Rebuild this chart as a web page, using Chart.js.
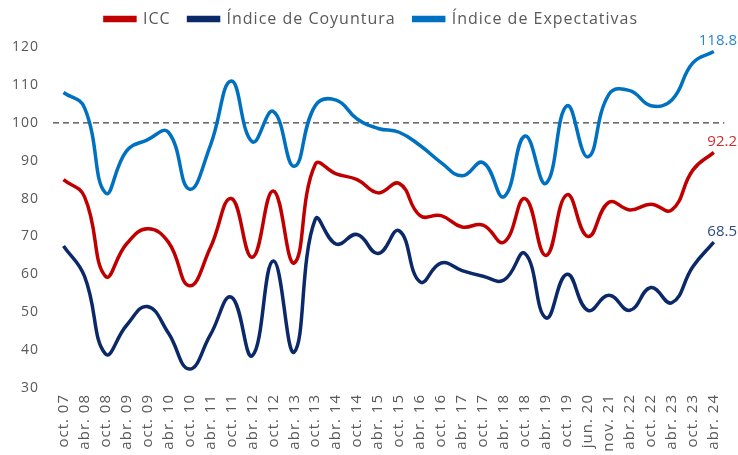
<!DOCTYPE html>
<html>
<head>
<meta charset="utf-8">
<script src="https://cdn.jsdelivr.net/npm/chart.js@4"></script>
<style>
html,body{margin:0;padding:0;background:#fff;}
#wrap{width:738px;height:455px;position:relative;}
</style>
</head>
<body>
<div id="wrap"><canvas id="c" width="738" height="455"></canvas></div>
<script>
const categories = ["oct. 07","abr. 08","oct. 08","abr. 09","oct. 09","abr. 10","oct. 10","abr. 11","oct. 11","abr. 12","oct. 12","abr. 13","oct. 13","abr. 14","oct. 14","abr. 15","oct. 15","abr. 16","oct. 16","abr. 17","oct. 17","abr. 18","oct. 18","abr. 19","oct. 19","jun. 20","nov. 21","abr. 22","oct. 22","abr. 23","oct. 23","abr. 24"];
const icc = [85,80.5,59.5,68,72,68.5,57,67,80,64.5,82,63,89,86.5,85,81.5,84,75.5,75.5,72.5,73,68.5,80,65,81,70,79,77,78.5,77,87.5,92.2];
const coyuntura = [67.5,59.5,39,46.5,51.5,44.5,35,44,54,38.5,63.5,39.5,74.5,68,70.5,65.5,71.5,58,63,61,59.5,58.5,65.5,48.5,60,50.5,54.5,50.5,56.5,52.5,62,68.5];
const expectativas = [108,104,81.5,92.5,95.5,97.5,82.5,94,111,95,103,88.5,104.5,106,101,98.5,97.5,94,89.5,86,89.5,80.5,96.5,84,104.5,91,107.5,108.5,104.5,106,115.8,118.8];
const referenceLevel = 100;
const yTicks = [30,40,50,60,70,80,90,100,110,120];

const FONT = "'Open Sans'";
const GRAY = "#595959";

const spacing = {
  id: 'spacing',
  beforeLayout(chart) { chart.ctx.letterSpacing = '1px'; },
  beforeDraw(chart) { chart.ctx.letterSpacing = '1px'; }
};

const refLine = {
  id: 'refLine',
  beforeDatasetsDraw(chart) {
    const {ctx, chartArea, scales} = chart;
    const y = scales.y.getPixelForValue(referenceLevel);
    ctx.save();
    ctx.strokeStyle = '#404040';
    ctx.lineWidth = 1.3;
    ctx.setLineDash([6,4]);
    ctx.beginPath();
    ctx.moveTo(chartArea.left, y);
    ctx.lineTo(chartArea.right, y);
    ctx.stroke();
    ctx.restore();
  }
};

const legendGap = {
  id: 'legendGap',
  beforeInit(chart) {
    const origFit = chart.legend.fit;
    chart.legend.fit = function() {
      origFit.bind(chart.legend)();
      this.height = 54;
    };
  },
  afterLayout(chart) {
    chart.legend.left += 9;
    chart.legend.right += 9;
  }
};

const endLabels = {
  id: 'endLabels',
  afterDatasetsDraw(chart) {
    const {ctx} = chart;
    ctx.save();
    ctx.letterSpacing = '0px';
    ctx.font = `15px ${FONT}`;
    ctx.textAlign = 'right';
    ctx.textBaseline = 'bottom';
    chart.data.datasets.forEach((ds, i) => {
      const meta = chart.getDatasetMeta(i);
      const last = meta.data[meta.data.length - 1];
      const v = ds.data[ds.data.length - 1];
      ctx.fillStyle = ds.labelColor;
      ctx.fillText(v.toFixed(1), 737, last.y - 3);
    });
    ctx.restore();
  }
};

new Chart(document.getElementById('c'), {
  type: 'line',
  data: {
    labels: categories,
    datasets: [
      {label: 'ICC', data: icc, borderColor: '#C00000', labelColor: '#D42A2A', borderWidth: 3.5, pointRadius: 0, tension: 0.45},
      {label: 'Índice de Coyuntura', data: coyuntura, borderColor: '#0B2868', labelColor: '#2B4A86', borderWidth: 3.5, pointRadius: 0, tension: 0.45},
      {label: 'Índice de Expectativas', data: expectativas, borderColor: '#0070C0', labelColor: '#2A86D0', borderWidth: 3.5, pointRadius: 0, tension: 0.45}
    ]
  },
  options: {
    responsive: false,
    animation: false,
    layout: {padding: {left: 0, right: 13, top: -7, bottom: 0}},
    plugins: {
      legend: {
        position: 'top',
        labels: {boxWidth: 30, boxHeight: 3, color: GRAY, font: {family: FONT, size: 16}, padding: 18},
      },
      tooltip: {enabled: false}
    },
    scales: {
      x: {
        offset: true,
        grid: {display: false, drawTicks: false},
        border: {display: false},
        afterFit(scale) { scale.height = 67; },
        ticks: {color: GRAY, font: {family: FONT, size: 15}, maxRotation: 90, minRotation: 90, autoSkip: false, padding: 6}
      },
      y: {
        min: 30, max: 120,
        afterBuildTicks(scale) { scale.ticks = yTicks.map(v => ({value: v})); },
        afterFit(scale) { scale.width = 53; },
        grid: {display: false, drawTicks: false},
        border: {display: false},
        ticks: {color: GRAY, font: {family: FONT, size: 14}, padding: 14}
      }
    }
  },
  plugins: [spacing, legendGap, refLine, endLabels]
});
</script>
</body>
</html>
